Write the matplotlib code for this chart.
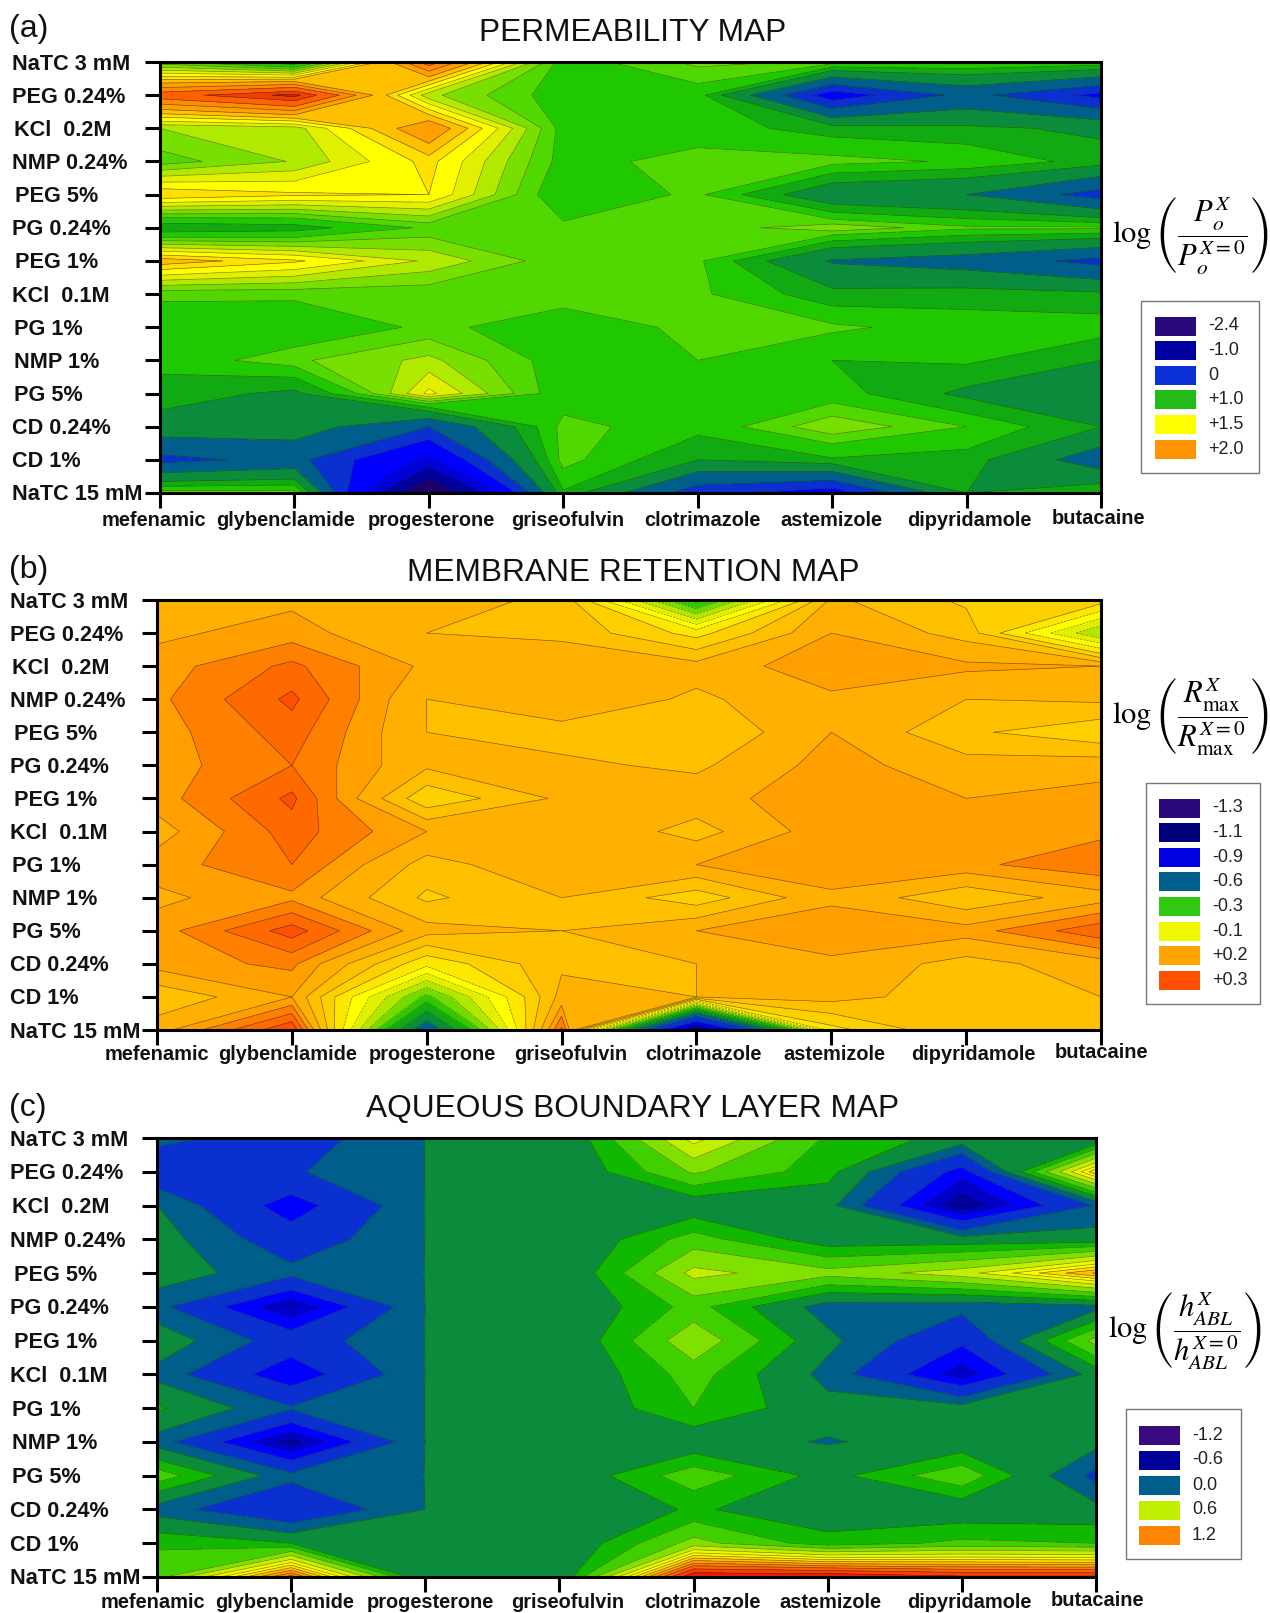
import numpy as np
import matplotlib
matplotlib.use('Agg')
import matplotlib.pyplot as plt
from matplotlib.patches import Rectangle

plt.rcParams['font.family'] = ['Liberation Sans', 'DejaVu Sans']
plt.rcParams['mathtext.fontset'] = 'stix'

W, H = 1270, 1613

drugs = ['mefenamic', 'glybenclamide', 'progesterone', 'griseofulvin',
         'clotrimazole', 'astemizole', 'dipyridamole', 'butacaine']
excipients = ['NaTC 3 mM', 'PEG 0.24%', 'KCl  0.2M', 'NMP 0.24%', 'PEG 5%', 'PG 0.24%', 'PEG 1%',
              'KCl  0.1M', 'PG 1%', 'NMP 1%', 'PG 5%', 'CD 0.24%', 'CD 1%', 'NaTC 15 mM']

# values, rows = excipients, columns = drugs
perm = np.array([
    [1.10, 0.80, 2.20, 1.00, 1.20, 1.15, 1.10, 1.05],
    [2.20, 2.50, 1.30, 1.00, 1.00, -0.40, 0.20, -0.30],
    [1.27, 1.32, 1.95, 1.02, 1.00, 0.85, 0.80, 0.70],
    [1.12, 1.28, 1.62, 1.02, 1.12, 1.12, 1.05, 0.85],
    [1.68, 1.60, 1.58, 0.95, 1.10, 0.55, 0.45, -0.05],
    [0.80, 0.85, 1.10, 1.10, 1.10, 1.25, 1.10, 1.10],
    [1.75, 1.60, 1.35, 1.10, 1.10, 0.42, 0.30, 0.00],
    [1.10, 1.10, 1.10, 1.12, 1.10, 0.82, 0.85, 0.80],
    [0.97, 0.95, 1.10, 1.00, 1.10, 1.10, 1.00, 1.00],
    [0.97, 1.15, 1.30, 1.00, 1.07, 0.92, 0.95, 0.75],
    [0.85, 0.70, 1.50, 0.98, 0.97, 1.00, 0.70, 0.60],
    [0.65, 0.62, 0.10, 1.12, 0.98, 1.25, 1.07, 0.75],
    [0.00, 0.20, -0.70, 1.13, 0.75, 0.90, 0.85, 0.25],
    [1.15, 1.15, -2.30, 0.90, -0.10, -0.40, 0.75, 0.95]])

reten = np.array([
    [0.16, 0.16, 0.14, 0.11, -0.38, 0.13, 0.06, 0.05],
    [0.16, 0.19, 0.12, 0.11, 0.00, 0.17, 0.10, -0.22],
    [0.19, 0.26, 0.16, 0.15, 0.14, 0.20, 0.18, 0.17],
    [0.20, 0.30, 0.12, 0.16, 0.11, 0.16, 0.12, 0.13],
    [0.19, 0.27, 0.12, 0.10, 0.07, 0.17, 0.08, 0.03],
    [0.19, 0.25, 0.13, 0.13, 0.11, 0.19, 0.14, 0.15],
    [0.19, 0.30, 0.03, 0.13, 0.15, 0.20, 0.17, 0.19],
    [0.15, 0.27, 0.17, 0.17, 0.10, 0.20, 0.19, 0.20],
    [0.19, 0.25, 0.10, 0.16, 0.17, 0.20, 0.20, 0.24],
    [0.16, 0.20, 0.06, 0.12, 0.04, 0.16, 0.08, 0.15],
    [0.19, 0.31, 0.14, 0.12, 0.17, 0.20, 0.19, 0.28],
    [0.19, 0.22, -0.02, 0.11, 0.12, 0.16, 0.10, 0.15],
    [0.08, 0.17, -0.30, 0.14, 0.12, 0.14, 0.09, 0.12],
    [0.15, 0.33, -0.65, 0.26, -1.28, 0.00, 0.12, 0.11]])

abl = np.array([
    [-0.05, -0.20, 0.05, 0.05, 0.75, 0.30, 0.15, 0.03],
    [-0.25, -0.12, 0.05, 0.05, 0.47, 0.25, -0.40, 0.95],
    [0.05, -0.42, 0.05, 0.05, 0.10, 0.10, -0.70, -0.08],
    [0.12, -0.22, 0.05, 0.05, 0.38, 0.12, 0.12, 0.12],
    [0.13, -0.05, 0.05, 0.05, 0.62, 0.50, 0.65, 1.05],
    [-0.05, -0.60, 0.05, 0.05, 0.37, -0.02, -0.05, 0.00],
    [0.15, -0.20, 0.05, 0.05, 0.55, 0.09, -0.28, 0.50],
    [0.00, -0.45, 0.05, 0.05, 0.38, 0.00, -0.55, 0.12],
    [0.22, -0.08, 0.05, 0.05, 0.32, 0.10, 0.12, 0.12],
    [-0.02, -0.65, 0.05, 0.05, 0.10, 0.04, 0.10, 0.10],
    [0.40, -0.05, 0.05, 0.08, 0.40, 0.15, 0.42, -0.15],
    [-0.02, -0.30, 0.05, 0.05, 0.22, 0.10, 0.10, 0.10],
    [0.30, 0.20, 0.05, 0.06, 0.50, 0.25, 0.35, 0.32],
    [0.40, 1.25, 0.05, 0.05, 1.55, 1.55, 1.45, 1.45]])

perm_levels = [-2.6, -1.6, -1.0, -0.6, -0.2, 0.1, 0.45, 0.75, 0.92, 1.07, 1.17, 1.27, 1.37, 1.47,
               1.58, 1.68, 1.8, 1.95, 2.1, 2.3, 2.45, 3.0]
perm_colors = ['#1f0066', '#00009a', '#0000d8', '#0000ff', '#0a30d0', '#005f8a', '#0a8c3c', '#12aa12',
               '#20c800', '#50d800', '#78e000', '#b0ea00', '#e0f000', '#ffff00', '#ffe000', '#ffc000',
               '#ffa000', '#ff8c00', '#ff6000', '#f04000', '#d82000']

reten_levels = [-1.4, -1.2, -1.05, -0.9, -0.7, -0.55, -0.45, -0.35, -0.28, -0.22, -0.16, -0.1, -0.04,
                0.02, 0.07, 0.12, 0.17, 0.21, 0.25, 0.29, 0.4]
reten_colors = ['#1f0066', '#00009a', '#0000f0', '#0a30d0', '#005f8a', '#0a8c3c', '#12aa12', '#30c800',
                '#70dc00', '#b0e800', '#e0f000', '#ffff00', '#ffe800', '#ffd000', '#ffc000', '#ffb000',
                '#ffa000', '#ff8000', '#ff6a00', '#ff5000']

abl_levels = [-1.3, -0.72, -0.58, -0.46, -0.32, -0.1, 0.049, 0.2, 0.32, 0.45, 0.58, 0.7, 0.8, 0.88, 0.96,
              1.04, 1.12, 1.2, 1.3, 1.42, 1.7]
abl_colors = ['#1f0066', '#00009a', '#0000c8', '#0000ff', '#0a30d0', '#005f8a', '#0a8c3c', '#10b800',
              '#40d000', '#80e000', '#c0f000', '#ecf800', '#ffff00', '#ffe000', '#ffc000', '#ffa000',
              '#ff8000', '#ff6000', '#f84000', '#e82000']

perm_legend = ['-2.4', '-1.0', '0', '+1.0', '+1.5', '+2.0']
perm_swatch = ['#2a0a7a', '#0000a0', '#0a30d8', '#22bb18', '#ffff00', '#ff9400']
reten_legend = ['-1.3', '-1.1', '-0.9', '-0.6', '-0.3', '-0.1', '+0.2', '+0.3']
reten_swatch = ['#2a0a7a', '#00007a', '#0000e0', '#005f8a', '#30c810', '#f0f800', '#ffa400', '#ff5000']
abl_legend = ['-1.2', '-0.6', '0.0', '0.6', '1.2']
abl_swatch = ['#3a0a80', '#00009a', '#005f8a', '#c0f000', '#ff8400']


def px_axes(l, t, r, b):
    return fig.add_axes([l / W, 1 - b / H, (r - l) / W, (b - t) / H])


fig = plt.figure(figsize=(W / 100, H / 100), dpi=100)
over = fig.add_axes([0, 0, 1, 1], zorder=5)
over.set_xlim(0, W)
over.set_ylim(H, 0)
over.axis('off')
over.patch.set_alpha(0)

y_left = [12, 12, 13.5, 12, 15, 12, 15, 12, 13.5, 13.5, 13.5, 12, 12, 12]

panels = [
    dict(z=perm, lv=perm_levels, col=perm_colors, box=(160, 62, 1101, 493), tag='(a)', tag_y=29,
         title='PERMEABILITY MAP', title_y=33, lab_y=520, dx=[-6, -9, 2, 4, 5, -1, 3, -3], ldx=0,
         math=r'$\log\left(\dfrac{P_o^{X}}{P_o^{X=0}}\right)$', math_pos=(1112, 236),
         leg=(1141, 301, 1259, 473), sw=(1155, 326, 24.6), names=perm_legend, sc=perm_swatch),
    dict(z=reten, lv=reten_levels, col=reten_colors, box=(157, 600, 1101, 1030), tag='(b)', tag_y=570,
         title='MEMBRANE RETENTION MAP', title_y=573, lab_y=1054, dx=[0, -4, 6, 9, 7, 3, 7, 0], ldx=-1.5,
         math=r'$\log\left(\dfrac{R_{\mathrm{max}}^{X}}{R_{\mathrm{max}}^{X=0}}\right)$', math_pos=(1112, 717),
         leg=(1146, 783, 1260, 1004), sw=(1159, 808, 24.6), names=reten_legend, sc=reten_swatch),
    dict(z=abl, lv=abl_levels, col=abl_colors, box=(157, 1138, 1096, 1577), tag='(c)', tag_y=1108,
         title='AQUEOUS BOUNDARY LAYER MAP', title_y=1109, lab_y=1602, dx=[-4, -7, 5, 8, 9, 3, 7, 1], ldx=-1.5,
         math=r'$\log\left(\dfrac{h_{ABL}^{X}}{h_{ABL}^{X=0}}\right)$', math_pos=(1108, 1331),
         leg=(1126, 1409, 1241, 1559), sw=(1139, 1435, 25), names=abl_legend, sc=abl_swatch),
]

for p in panels:
    l, t, r, b = p['box']
    ax = px_axes(l, t, r, b)
    xs = np.arange(len(drugs))
    ys = np.arange(len(excipients))
    ax.contourf(xs, ys, p['z'], levels=p['lv'], colors=p['col'])
    ax.contour(xs, ys, p['z'], levels=p['lv'][1:-1], colors='#222222', linewidths=0.45, alpha=0.6)
    ax.set_xlim(0, 7)
    ax.set_ylim(13, 0)
    ax.set_xticks(xs)
    ax.set_yticks(ys)
    ax.set_xticklabels([])
    ax.set_yticklabels([])
    ax.tick_params(length=10.5, width=2.2, color='black')
    for s in ax.spines.values():
        s.set_linewidth(2.2)

    # labels are placed by hand, they are not aligned on the ticks in the original
    for i, name in enumerate(excipients):
        over.text(y_left[i] + p['ldx'], t + (b - t) * i / 13 + 2, name, fontsize=15.6, fontweight='bold',
                  ha='left', va='center', color='#111111')
    for i, name in enumerate(drugs):
        yy = p['lab_y'] - 1 if i == 7 else p['lab_y']
        over.text(l + (r - l) * i / 7 + p['dx'][i], yy, name, fontsize=14.4, fontweight='bold',
                  ha='center', va='center', color='#111111')

    over.text(9, p['tag_y'], p['tag'], fontsize=23, ha='left', va='center', color='#111111')
    over.text(633, p['title_y'], p['title'], fontsize=22.8, ha='center', va='center', color='#111111')
    over.text(p['math_pos'][0], p['math_pos'][1], p['math'], fontsize=22, ha='left', va='center')

    # legend box
    bl, bt, br, bb = p['leg']
    over.add_patch(Rectangle((bl, bt), br - bl, bb - bt, fc='white', ec='#777777', lw=1))
    sx, sy, step = p['sw']
    for i, (name, c) in enumerate(zip(p['names'], p['sc'])):
        over.add_patch(Rectangle((sx, sy + i * step - 9.5), 41, 19, fc=c, ec='none'))
        over.text(sx + 53, sy + i * step, name, fontsize=13, ha='left', va='center', color='#222222')

fig.savefig('out.png', dpi=100)
